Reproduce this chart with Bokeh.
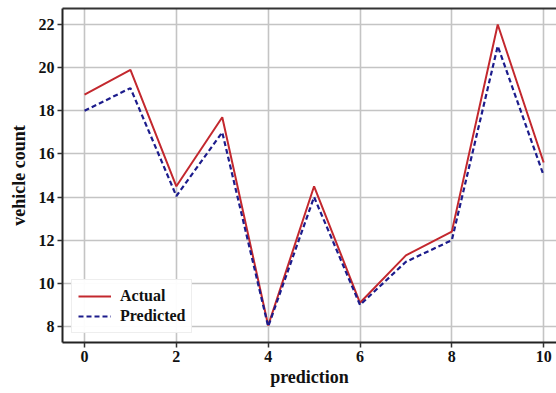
from bokeh.plotting import figure
from bokeh.models import Range1d, FixedTicker, Legend, LegendItem, LinearAxis
from bokeh.embed import file_html
from bokeh.resources import INLINE

x_vals = [0, 1, 2, 3, 4, 5, 6, 7, 8, 9, 10]
actual = [18.75, 19.9, 14.5, 17.7, 8.05, 14.5, 9.1, 11.3, 12.4, 22.0, 15.6]
predicted = [18.0, 19.05, 14.05, 17.0, 8.0, 14.0, 9.0, 11.0, 12.0, 21.0, 15.0]
x_ticks = [0, 2, 4, 6, 8, 10]
y_ticks = [8, 10, 12, 14, 16, 18, 20, 22]

p = figure(width=556, height=393, output_backend="svg", toolbar_location=None,
           x_range=Range1d(-0.48, 10.28), y_range=Range1d(7.26, 22.74),
           min_border_left=62, min_border_right=0, min_border_top=8, min_border_bottom=51)

font = "Liberation Serif"
for ax in (p.xaxis, p.yaxis):
    ax.major_label_text_font = font
    ax.major_label_text_font_style = "bold"
    ax.major_label_text_font_size = "16px"
    ax.major_label_text_color = "#111111"
    ax.axis_label_text_font = font
    ax.axis_label_text_font_style = "bold"
    ax.axis_label_text_font_size = "18px"
    ax.axis_label_text_color = "#111111"
    ax.axis_line_color = "#222222"
    ax.axis_line_width = 2
    ax.major_tick_line_color = "#333333"
    ax.major_tick_line_width = 1.5
    ax.major_tick_out = 5
    ax.major_tick_in = 0
    ax.minor_tick_line_color = None

p.xaxis.ticker = FixedTicker(ticks=x_ticks)
p.yaxis.ticker = FixedTicker(ticks=y_ticks)
p.xaxis.axis_label = "prediction"
p.yaxis.axis_label = "vehicle count"
p.xaxis.major_label_standoff = 3
p.yaxis.major_label_standoff = 3
p.xaxis.axis_label_standoff = 2
p.yaxis.axis_label_standoff = 7

# top border line (no right border: the reference is cut off there)
top_axis = LinearAxis(ticker=FixedTicker(ticks=[]), major_label_text_font_size="0px",
                      axis_line_color="#333333", axis_line_width=2,
                      major_tick_line_color=None, minor_tick_line_color=None)
p.add_layout(top_axis, "above")

p.grid.grid_line_color = "#c4c4c4"
p.grid.grid_line_width = 1.6
p.outline_line_color = None

r1 = p.line(x_vals, actual, line_color="#c3282e", line_width=2)
r2 = p.line(x_vals, predicted, line_color="#1c1c8c", line_width=2.2, line_dash="5 3")

legend = Legend(items=[LegendItem(label="Actual", renderers=[r1]),
                       LegendItem(label="Predicted", renderers=[r2])],
                location="bottom_left")
legend.label_text_font = font
legend.label_text_font_style = "bold"
legend.label_text_font_size = "16px"
legend.label_text_color = "#111111"
legend.glyph_width = 33
legend.label_standoff = 9
legend.spacing = 0
legend.padding = 6
legend.margin = 9
legend.border_line_color = "#dedede"
legend.border_line_width = 1
legend.background_fill_alpha = 0.95
p.add_layout(legend)

open("out.html", "w").write(file_html(p, INLINE))
